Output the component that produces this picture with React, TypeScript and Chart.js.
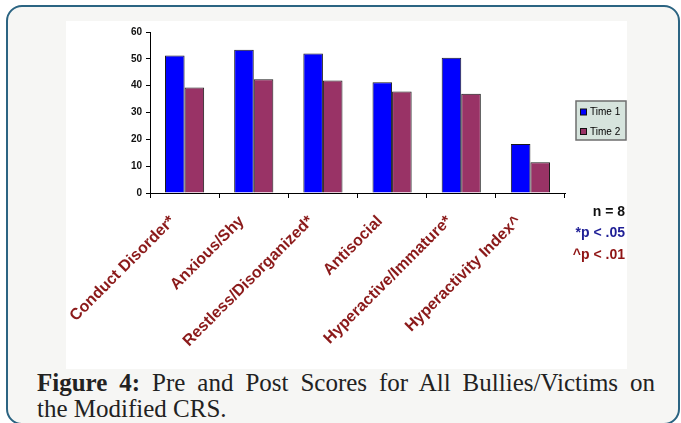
import React, { useEffect, useRef } from "react";
import { Chart, registerables } from "chart.js";

Chart.register(...registerables);

const categories = [
  "Conduct Disorder*",
  "Anxious/Shy",
  "Restless/Disorganized*",
  "Antisocial",
  "Hyperactive/Immature*",
  "Hyperactivity Index^",
];
const time1 = [51.2, 53.4, 52.0, 41.3, 50.4, 18.3];
const time2 = [39.3, 42.4, 41.9, 37.8, 37.0, 11.5];
const seriesNames = ["Time 1", "Time 2"];
const seriesColors = ["#0000ff", "#993366"];
const yTicks = { min: 0, max: 60, step: 10 };
const notes = [
  { text: "n = 8", color: "#111111" },
  { text: "*p < .05", color: "#1f1f96" },
  { text: "^p < .01", color: "#8f1414" },
];

const overlayPlugin = {
  id: "overlay",
  afterDraw(chart: any) {
    const ctx = chart.ctx;
    const area = chart.chartArea;
    ctx.save();
    const lx = area.right + 11;
    const ly = 80;
    const lw = 50;
    const lh = 39;
    ctx.fillStyle = "#d6e4dd";
    ctx.fillRect(lx, ly, lw, lh);
    ctx.strokeStyle = "#6e6e6e";
    ctx.lineWidth = 1.5;
    ctx.strokeRect(lx, ly, lw, lh);
    ctx.font = "10px 'Liberation Sans', Arial, sans-serif";
    ctx.textBaseline = "middle";
    ctx.textAlign = "left";
    chart.data.datasets.forEach((ds: any, i: number) => {
      const cy = ly + 11 + i * 19.5;
      ctx.fillStyle = ds.backgroundColor;
      ctx.fillRect(lx + 4.5, cy - 3, 6, 6);
      ctx.strokeStyle = "#111";
      ctx.lineWidth = 1;
      ctx.strokeRect(lx + 4.5, cy - 3, 6, 6);
      ctx.fillStyle = "#000";
      ctx.fillText(ds.label, lx + 14, cy + 0.5);
    });
    ctx.font = "bold 14px 'Liberation Sans', Arial, sans-serif";
    ctx.textAlign = "right";
    notes.forEach((n, i) => {
      ctx.fillStyle = n.color;
      ctx.fillText(n.text, chart.width - 2, 191 + i * 21.5);
    });
    ctx.restore();
  },
};

function ChartCanvas() {
  const ref = useRef<HTMLCanvasElement>(null);
  useEffect(() => {
    if (!ref.current) return;
    const chart = new Chart(ref.current, {
      type: "bar",
      data: {
        labels: categories,
        datasets: [time1, time2].map((d, i) => ({
          label: seriesNames[i],
          data: d,
          backgroundColor: seriesColors[i],
          borderColor: "#1a1a1a",
          borderWidth: 1,
          categoryPercentage: 0.566,
          barPercentage: 1,
        })),
      },
      options: {
        responsive: false,
        animation: false,
        layout: { padding: { left: 0, top: 11, right: 62, bottom: 0 } },
        plugins: { legend: { display: false }, tooltip: { enabled: false } },
        scales: {
          y: {
            min: yTicks.min,
            max: yTicks.max,
            ticks: {
              stepSize: yTicks.step,
              color: "#111",
              padding: 4,
              font: { family: "'Liberation Sans', Arial, sans-serif", size: 10, weight: "bold" },
            },
            grid: { display: true, drawOnChartArea: false, drawTicks: true, tickLength: 4, color: "#000" },
            border: { color: "#000", width: 1 },
            afterFit: (s: any) => {
              s.width = 84;
            },
          },
          x: {
            ticks: {
              color: "#8b1a1a",
              minRotation: 45,
              maxRotation: 45,
              padding: 14,
              labelOffset: -12,
              font: { family: "'Liberation Sans', Arial, sans-serif", size: 16, weight: "bold" },
            },
            grid: { display: true, offset: true, drawOnChartArea: false, drawTicks: true, tickLength: 5, color: "#000" },
            border: { color: "#000", width: 1 },
            afterFit: (s: any) => {
              s.height = 176;
              s.paddingLeft = 0;
              s.paddingRight = 0;
            },
          },
        },
      },
      plugins: [overlayPlugin],
    });
    return () => chart.destroy();
  }, []);
  return <canvas ref={ref} width={561} height={348} style={{ display: "block" }} />;
}

export default function App() {
  return (
    <div style={{ position: "fixed", left: 0, top: 0, width: 681, height: 423, background: "#ffffff", overflow: "hidden" }}>
      <div
        style={{
          position: "absolute",
          left: 6,
          top: 5,
          width: 674,
          height: 420,
          boxSizing: "border-box",
          border: "2px solid #2b6482",
          borderRadius: 16,
          background: "#f6f6f4",
        }}
      />
      <div style={{ position: "absolute", left: 66, top: 21, width: 561, height: 348, background: "#fff" }}>
        <ChartCanvas />
      </div>
      <div
        style={{
          position: "absolute",
          left: 37,
          top: 370,
          width: 618,
          fontFamily: "'Liberation Serif', 'Times New Roman', serif",
          fontSize: 25,
          lineHeight: "26px",
          color: "#222",
        }}
      >
        <div style={{ textAlign: "justify", textAlignLast: "justify" as any }}>
          <b>Figure 4:</b> Pre and Post Scores for All Bullies/Victims on
        </div>
        <div>the Modified CRS.</div>
      </div>
    </div>
  );
}
